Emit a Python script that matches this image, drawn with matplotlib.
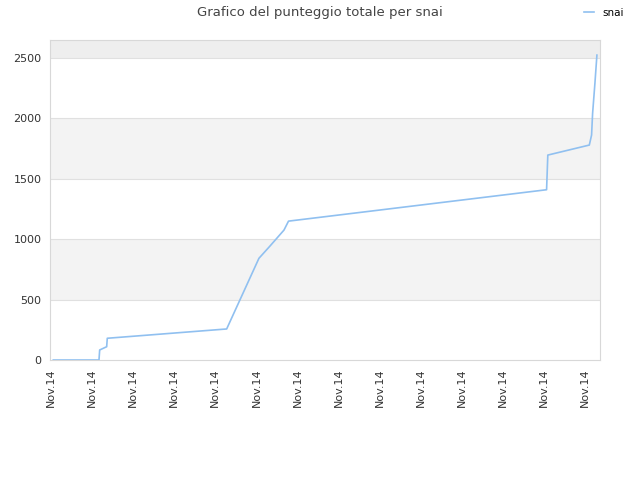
import matplotlib
matplotlib.use("Agg")
import matplotlib.pyplot as plt

# x in tick units (one "Nov.14" label per unit), y = total score
snai_x = [0.056, 1.168, 1.185, 1.355, 1.37, 4.275, 5.06, 5.33, 5.67, 5.78,
          12.06, 12.09, 13.10, 13.155, 13.18, 13.236, 13.285]
snai_y = [0, 0, 83, 110, 180, 257, 842, 944, 1076, 1150,
          1410, 1697, 1780, 1863, 2042, 2290, 2525]
tick_labels = ["Nov.14"] * 14
y_ticks = [0, 500, 1000, 1500, 2000, 2500]

fig = plt.figure(figsize=(6.4, 4.8), dpi=100)
ax = fig.add_axes([50 / 640, 120 / 480, 550 / 640, 320 / 480])

ax.set_xlim(-0.024, 13.36)
ax.set_ylim(0, 2650)

# alternating horizontal bands
ax.axhspan(500, 1000, color="#f3f3f3", zorder=0, lw=0)
ax.axhspan(1500, 2000, color="#f3f3f3", zorder=0, lw=0)
ax.axhspan(2500, 2650, color="#eeeeee", zorder=0, lw=0)
for yv in y_ticks[1:]:
    ax.axhline(yv, color="#e0e0e0", lw=0.8, zorder=1)

ax.plot(snai_x, snai_y, color="#90c0f0", lw=1.2, label="snai", zorder=3)

ax.set_yticks(y_ticks)
ax.set_xticks(range(len(tick_labels)))
ax.set_xticklabels(tick_labels, rotation=90)
ax.tick_params(axis="both", length=0, labelsize=8, colors="#333333", pad=6)
for s in ax.spines.values():
    s.set_color("#d8d8d8")
    s.set_linewidth(0.8)

fig.text(0.5, 0.988, "Grafico del punteggio totale per snai", ha="center", va="top",
         fontsize=9.5, color="#444444")
fig.legend(loc="upper right", bbox_to_anchor=(0.99, 1.003), frameon=False,
           fontsize=7.5, handlelength=1.0, handletextpad=0.8)

fig.savefig("out.png", dpi=100)
